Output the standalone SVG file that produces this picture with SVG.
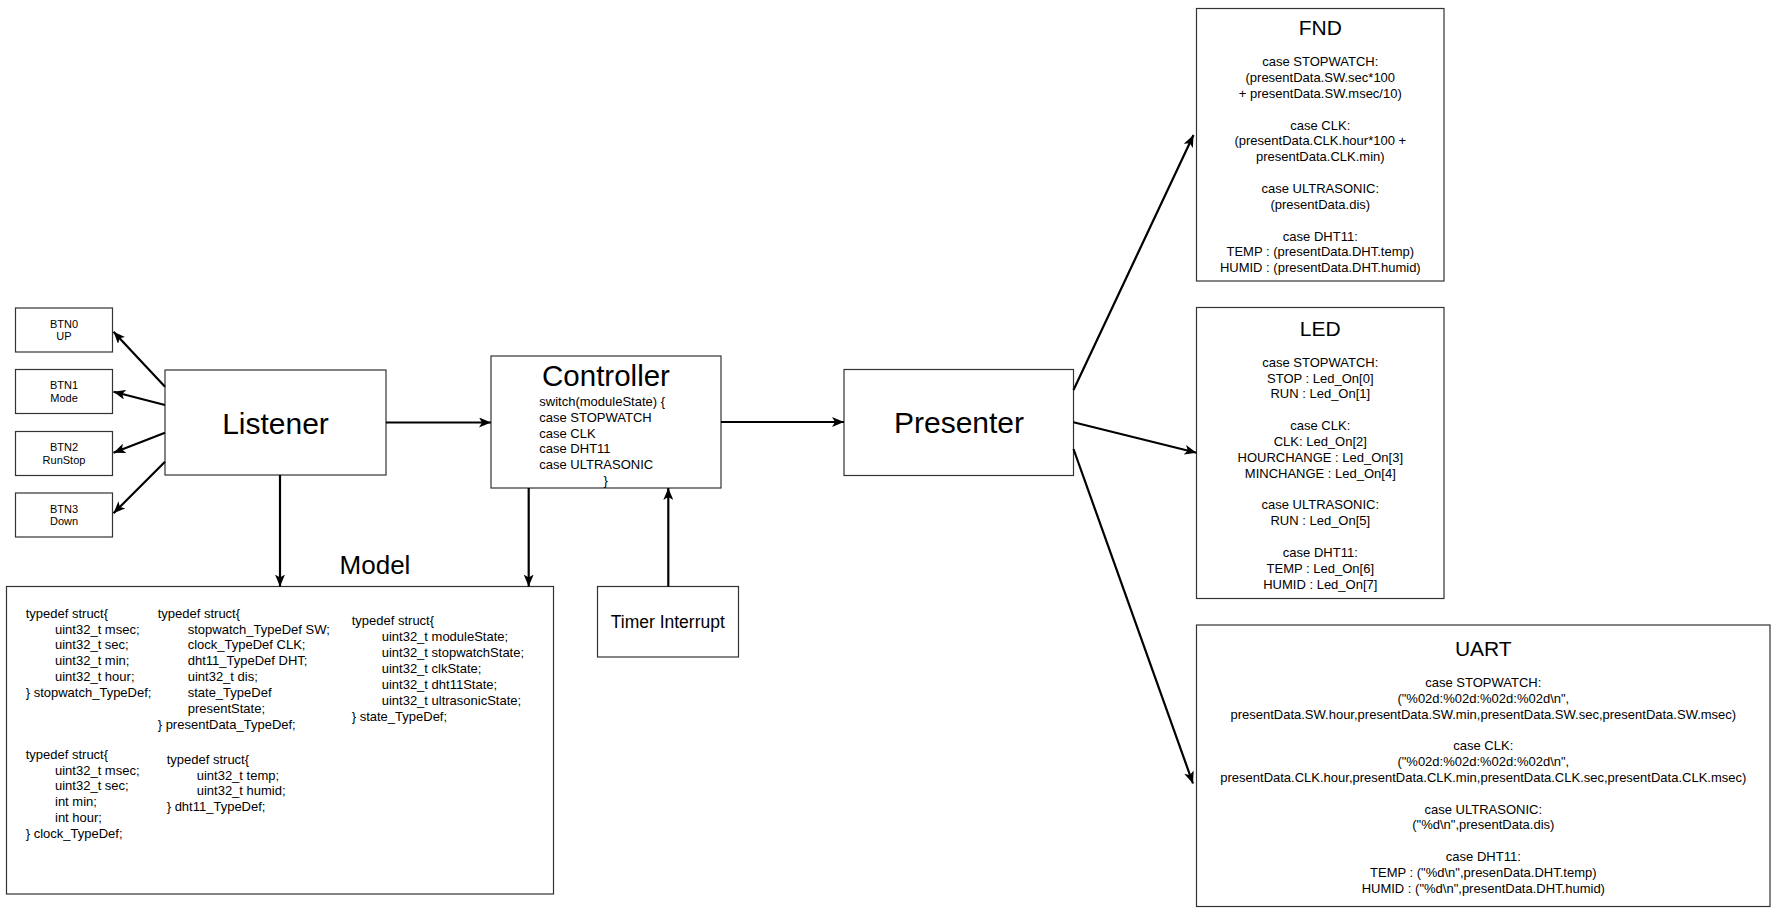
<svg xmlns="http://www.w3.org/2000/svg" width="1782" height="920" viewBox="0 0 1782 920">
<style>
.box{fill:#fff;stroke:#333;stroke-width:1.2}
.t{font-family:"Liberation Sans",Arial,Helvetica,sans-serif;fill:#000}
.big{font-size:30px;text-anchor:middle}
.ttl{font-size:21px;text-anchor:middle}
.c13{font-size:13px}
.mid{text-anchor:middle}
.b11{font-size:11px;text-anchor:middle}
.con{fill:none;stroke:#000;stroke-width:2.2}
</style>
<defs>
<marker id="arr" viewBox="0 0 12 10" refX="12" refY="5" markerWidth="12" markerHeight="10" markerUnits="userSpaceOnUse" orient="auto">
<path d="M0,0 L12,5 L0,10 L3,5 Z" fill="#000"/>
</marker>
</defs>
<rect width="1782" height="920" fill="#fff"/>

<g id="btn0"><rect class="box" x="15.5" y="308" width="97" height="44"/><text class="t b11" x="64" y="327.6">BTN0</text><text class="t b11" x="64" y="340.2">UP</text></g>
<g id="btn1"><rect class="box" x="15.5" y="369.5" width="97" height="44"/><text class="t b11" x="64" y="389">BTN1</text><text class="t b11" x="64" y="401.6">Mode</text></g>
<g id="btn2"><rect class="box" x="15.5" y="431.5" width="97" height="44"/><text class="t b11" x="64" y="451">BTN2</text><text class="t b11" x="64" y="463.6">RunStop</text></g>
<g id="btn3"><rect class="box" x="15.5" y="493" width="97" height="44"/><text class="t b11" x="64" y="512.6">BTN3</text><text class="t b11" x="64" y="525.3">Down</text></g>

<g id="listener"><rect class="box" x="165" y="370" width="221" height="105"/><text class="t big" x="275.5" y="434">Listener</text></g>

<g id="controller"><rect class="box" x="491" y="356" width="230" height="132"/>
<text class="t big" x="606" y="385.7" style="font-size:29.5px">Controller</text>
<text class="t c13" x="539.3" y="406.1">switch(moduleState) {</text>
<text class="t c13" x="539.3" y="421.8">case STOPWATCH</text>
<text class="t c13" x="539.3" y="437.5">case CLK</text>
<text class="t c13" x="539.3" y="453.2">case DHT11</text>
<text class="t c13" x="539.3" y="468.9">case ULTRASONIC</text>
<text class="t c13 mid" x="605.7" y="484.5">}</text>
</g>

<g id="timer"><rect class="box" x="597.5" y="586.5" width="141" height="70.5"/><text class="t mid" x="667.8" y="628.3" style="font-size:17.5px">Timer Interrupt</text></g>

<g id="model"><rect class="box" x="6.5" y="586.5" width="547" height="307.5"/>
<text class="t mid" x="375" y="574.3" style="font-size:26px">Model</text>
<text class="t c13" x="25.7" y="617.7">typedef struct{</text>
<text class="t c13" x="55" y="633.7">uint32_t msec;</text>
<text class="t c13" x="55" y="649.4">uint32_t sec;</text>
<text class="t c13" x="55" y="665.1">uint32_t min;</text>
<text class="t c13" x="55" y="681.1">uint32_t hour;</text>
<text class="t c13" x="25.7" y="697.1">} stopwatch_TypeDef;</text>

<text class="t c13" x="157.7" y="617.7">typedef struct{</text>
<text class="t c13" x="187.7" y="633.6">stopwatch_TypeDef SW;</text>
<text class="t c13" x="187.7" y="649.4">clock_TypeDef CLK;</text>
<text class="t c13" x="187.7" y="665.3">dht11_TypeDef DHT;</text>
<text class="t c13" x="187.7" y="681.2">uint32_t dis;</text>
<text class="t c13" x="187.7" y="697.0">state_TypeDef</text>
<text class="t c13" x="187.7" y="712.9">presentState;</text>
<text class="t c13" x="157.7" y="728.7">} presentData_TypeDef;</text>

<text class="t c13" x="351.7" y="625.4">typedef struct{</text>
<text class="t c13" x="381.7" y="641.3">uint32_t moduleState;</text>
<text class="t c13" x="381.7" y="657.2">uint32_t stopwatchState;</text>
<text class="t c13" x="381.7" y="673.1">uint32_t clkState;</text>
<text class="t c13" x="381.7" y="689.0">uint32_t dht11State;</text>
<text class="t c13" x="381.7" y="705.0">uint32_t ultrasonicState;</text>
<text class="t c13" x="351.7" y="721.0">} state_TypeDef;</text>

<text class="t c13" x="25.7" y="758.7">typedef struct{</text>
<text class="t c13" x="55" y="774.6">uint32_t msec;</text>
<text class="t c13" x="55" y="790.4">uint32_t sec;</text>
<text class="t c13" x="55" y="806.3">int min;</text>
<text class="t c13" x="55" y="822.1">int hour;</text>
<text class="t c13" x="25.7" y="838.0">} clock_TypeDef;</text>

<text class="t c13" x="166.7" y="763.7">typedef struct{</text>
<text class="t c13" x="196.7" y="779.6">uint32_t temp;</text>
<text class="t c13" x="196.7" y="795.4">uint32_t humid;</text>
<text class="t c13" x="166.7" y="811.3">} dht11_TypeDef;</text>
</g>

<g id="presenter"><rect class="box" x="844" y="369.5" width="229.5" height="106"/><text class="t big" x="959" y="433.3">Presenter</text></g>

<g id="fnd"><rect class="box" x="1196.5" y="8.5" width="247.5" height="272.5"/>
<text class="t ttl" x="1320.3" y="35">FND</text>
<text class="t c13 mid" x="1320.3" y="66.1">case STOPWATCH:</text>
<text class="t c13 mid" x="1320.3" y="81.9">(presentData.SW.sec*100</text>
<text class="t c13 mid" x="1320.3" y="97.8">+ presentData.SW.msec/10)</text>
<text class="t c13 mid" x="1320.3" y="129.5">case CLK:</text>
<text class="t c13 mid" x="1320.3" y="145.3">(presentData.CLK.hour*100 +</text>
<text class="t c13 mid" x="1320.3" y="161.2">presentData.CLK.min)</text>
<text class="t c13 mid" x="1320.3" y="192.9">case ULTRASONIC:</text>
<text class="t c13 mid" x="1320.3" y="208.7">(presentData.dis)</text>
<text class="t c13 mid" x="1320.3" y="240.5">case DHT11:</text>
<text class="t c13 mid" x="1320.3" y="256.3">TEMP : (presentData.DHT.temp)</text>
<text class="t c13 mid" x="1320.3" y="272.2">HUMID : (presentData.DHT.humid)</text>
</g>

<g id="led"><rect class="box" x="1196.5" y="307.5" width="247.5" height="291"/>
<text class="t ttl" x="1320.3" y="335.7">LED</text>
<text class="t c13 mid" x="1320.3" y="366.7">case STOPWATCH:</text>
<text class="t c13 mid" x="1320.3" y="382.6">STOP : Led_On[0]</text>
<text class="t c13 mid" x="1320.3" y="398.4">RUN : Led_On[1]</text>
<text class="t c13 mid" x="1320.3" y="430.1">case CLK:</text>
<text class="t c13 mid" x="1320.3" y="446.0">CLK: Led_On[2]</text>
<text class="t c13 mid" x="1320.3" y="461.9">HOURCHANGE : Led_On[3]</text>
<text class="t c13 mid" x="1320.3" y="477.7">MINCHANGE : Led_On[4]</text>
<text class="t c13 mid" x="1320.3" y="509.4">case ULTRASONIC:</text>
<text class="t c13 mid" x="1320.3" y="525.3">RUN : Led_On[5]</text>
<text class="t c13 mid" x="1320.3" y="557.0">case DHT11:</text>
<text class="t c13 mid" x="1320.3" y="572.9">TEMP : Led_On[6]</text>
<text class="t c13 mid" x="1320.3" y="588.7">HUMID : Led_On[7]</text>
</g>

<g id="uart"><rect class="box" x="1196.5" y="625" width="573.5" height="281.5"/>
<text class="t ttl" x="1483.3" y="656">UART</text>
<text class="t c13 mid" x="1483.3" y="687.1">case STOPWATCH:</text>
<text class="t c13 mid" x="1483.3" y="702.9">("%02d:%02d:%02d:%02d\n",</text>
<text class="t c13 mid" x="1483.3" y="718.7">presentData.SW.hour,presentData.SW.min,presentData.SW.sec,presentData.SW.msec)</text>
<text class="t c13 mid" x="1483.3" y="750.3">case CLK:</text>
<text class="t c13 mid" x="1483.3" y="766.1">("%02d:%02d:%02d:%02d\n",</text>
<text class="t c13 mid" x="1483.3" y="781.9">presentData.CLK.hour,presentData.CLK.min,presentData.CLK.sec,presentData.CLK.msec)</text>
<text class="t c13 mid" x="1483.3" y="813.5">case ULTRASONIC:</text>
<text class="t c13 mid" x="1483.3" y="829.3">("%d\n",presentData.dis)</text>
<text class="t c13 mid" x="1483.3" y="860.9">case DHT11:</text>
<text class="t c13 mid" x="1483.3" y="876.7">TEMP : ("%d\n",presenData.DHT.temp)</text>
<text class="t c13 mid" x="1483.3" y="892.5">HUMID : ("%d\n",presentData.DHT.humid)</text>
</g>

<g id="connectors">
<path class="con" marker-end="url(#arr)" d="M165,386.7 L113.5,331.7"/>
<path class="con" marker-end="url(#arr)" d="M165,405 L113.5,391.7"/>
<path class="con" marker-end="url(#arr)" d="M165,432.7 L113.5,452.7"/>
<path class="con" marker-end="url(#arr)" d="M165,461.7 L113.5,513.3"/>
<path class="con" marker-end="url(#arr)" d="M386,422.5 L491,422.5"/>
<path class="con" marker-end="url(#arr)" d="M280,475 L280,586.5"/>
<path class="con" marker-end="url(#arr)" d="M528.7,488 L528.7,586.5"/>
<path class="con" marker-end="url(#arr)" d="M668.3,586.5 L668.3,488"/>
<path class="con" marker-end="url(#arr)" d="M721,422 L844,422"/>
<path class="con" marker-end="url(#arr)" d="M1073.5,390 L1193.5,135"/>
<path class="con" marker-end="url(#arr)" d="M1073.5,422.3 L1196.5,452.7"/>
<path class="con" marker-end="url(#arr)" d="M1073.5,449 L1193,783.5"/>
</g>
</svg>
